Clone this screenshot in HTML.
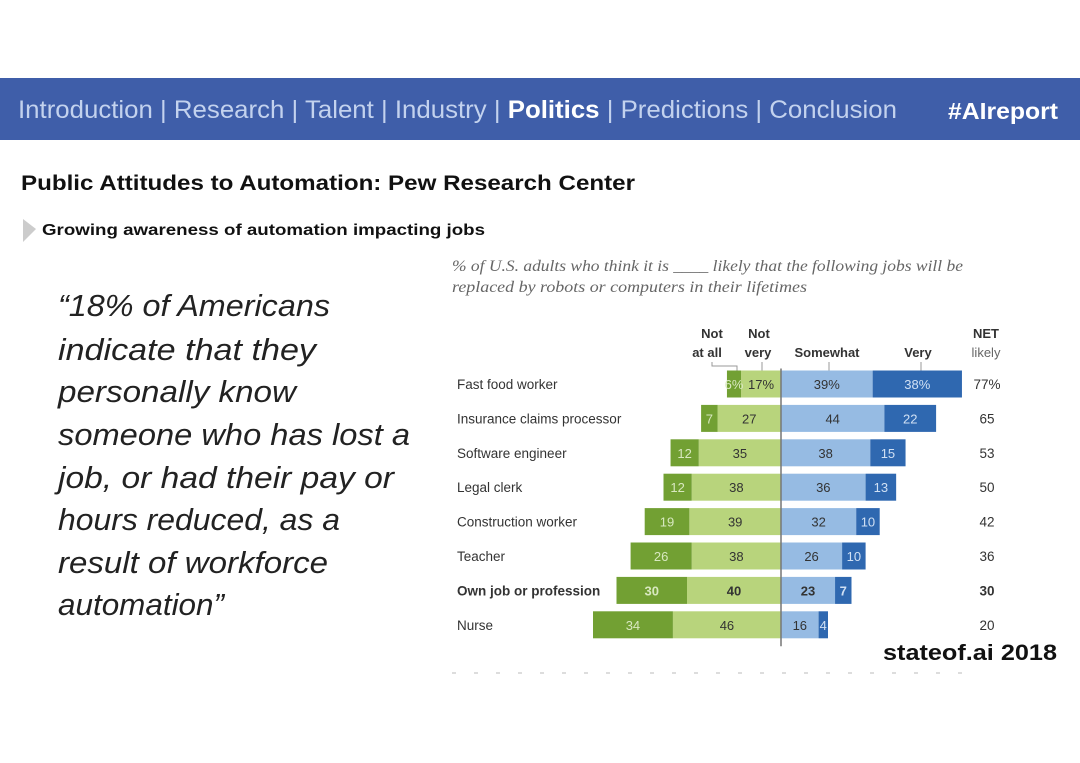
<!DOCTYPE html>
<html><head><meta charset="utf-8"><style>
body{margin:0;background:#fff}
svg{display:block}
</style></head><body>
<svg id="s" width="1080" height="763" viewBox="0 0 1080 763" xmlns="http://www.w3.org/2000/svg" font-family="Liberation Sans, sans-serif">
<rect x="0" y="78" width="1080" height="62" fill="#3f5ea9"/>
<text x="18" y="118" font-size="25" fill="#c3d2ee" textLength="879" lengthAdjust="spacingAndGlyphs">Introduction | Research | Talent | Industry | <tspan font-weight="bold" fill="#fff">Politics</tspan> | Predictions | Conclusion</text>
<text x="948" y="119" font-size="23" font-weight="bold" fill="#fff" textLength="110" lengthAdjust="spacingAndGlyphs">#AIreport</text>
<text x="21" y="190" font-size="21" font-weight="bold" fill="#111" textLength="614" lengthAdjust="spacingAndGlyphs">Public Attitudes to Automation: Pew Research Center</text>
<polygon points="23,219 36,229 23,242" fill="#ccc"/>
<text x="42" y="235" font-size="16" font-weight="bold" fill="#111" textLength="443" lengthAdjust="spacingAndGlyphs">Growing awareness of automation impacting jobs</text>
<g font-style="italic" font-size="31" fill="#222">
<text x="58" y="316" textLength="272" lengthAdjust="spacingAndGlyphs">“18% of Americans</text>
<text x="58" y="360" textLength="258" lengthAdjust="spacingAndGlyphs">indicate that they</text>
<text x="58" y="402" textLength="238" lengthAdjust="spacingAndGlyphs">personally know</text>
<text x="58" y="445" textLength="352" lengthAdjust="spacingAndGlyphs">someone who has lost a</text>
<text x="58" y="488" textLength="336" lengthAdjust="spacingAndGlyphs">job, or had their pay or</text>
<text x="58" y="530" textLength="282" lengthAdjust="spacingAndGlyphs">hours reduced, as a</text>
<text x="58" y="573" textLength="270" lengthAdjust="spacingAndGlyphs">result of workforce</text>
<text x="58" y="615" textLength="166" lengthAdjust="spacingAndGlyphs">automation”</text>
</g>
<g font-family="Liberation Serif, serif" font-style="italic" font-size="16" fill="#666">
<text x="452" y="271" textLength="511" lengthAdjust="spacingAndGlyphs">% of U.S. adults who think it is ____ likely that the following jobs will be</text>
<text x="452" y="292" textLength="355" lengthAdjust="spacingAndGlyphs">replaced by robots or computers in their lifetimes</text>
</g>
<g font-size="13" fill="#333" text-anchor="middle">
<text x="712" y="338" font-weight="bold">Not</text><text x="707" y="357" font-weight="bold">at all</text>
<text x="759" y="338" font-weight="bold">Not</text><text x="758" y="357" font-weight="bold">very</text>
<text x="827" y="357" font-weight="bold">Somewhat</text>
<text x="918" y="357" font-weight="bold">Very</text>
<text x="986" y="338" font-weight="bold">NET</text><text x="986" y="357" fill="#666">likely</text>
</g>
<g stroke="#999" stroke-width="1" fill="none">
<polyline points="712,362 712,366 737,366 737,372"/><line x1="762" y1="362" x2="762" y2="372"/><line x1="829" y1="362" x2="829" y2="372"/><line x1="921" y1="362" x2="921" y2="372"/>
</g>
<g id="chart"></g>
<text x="1057" y="660" font-size="22" font-weight="bold" fill="#111" text-anchor="end" textLength="174" lengthAdjust="spacingAndGlyphs">stateof.ai 2018</text>
<line x1="452" y1="673" x2="965" y2="673" stroke="#ddd" stroke-width="2" stroke-dasharray="4 18"/>
</svg>
<script>
const categories=["Fast food worker","Insurance claims processor","Software engineer","Legal clerk","Construction worker","Teacher","Own job or profession","Nurse"];
const notAtAll=[6,7,12,12,19,26,30,34];
const notVery=[17,27,35,38,39,38,40,46];
const somewhat=[39,44,38,36,32,26,23,16];
const very=[38,22,15,13,10,10,7,4];
const net=[77,65,53,50,42,36,30,20];
const NS="http://www.w3.org/2000/svg";
const g=document.getElementById('chart');
const cx=781,k=2.35,y0=384,step=34.4,bh=27;
const xs=v=>v*k;
const rowY=i=>y0+i*step;
function mk(t,a){const e=document.createElementNS(NS,t);for(const n in a)e.setAttribute(n,a[n]);g.appendChild(e);return e;}
function bar(x,w,y,fill,val,tc,bold,suffix){
  const r=mk('rect',{x:x,y:y-bh/2,width:w,height:bh,fill:fill});
  
  
  const t=mk('text',{x:x+w/2,y:y+5,'font-size':13,'text-anchor':'middle',fill:tc,'font-weight':bold?'bold':'normal'});
  t.textContent=val+suffix;
  
  
}
categories.forEach((c,i)=>{
  const y=rowY(i),b=i===6,s=i===0?'%':'';
  const l=mk('text',{x:457,y:y+5,'font-size':13.5,fill:'#333','font-weight':b?'bold':'normal'});
  l.textContent=c;
  
  
  const wv=xs(notVery[i]),wa=xs(notAtAll[i]);
  bar(cx-wv,wv,y,'#b8d47c',notVery[i],'#333',b,s);
  bar(cx-wv-wa,wa,y,'#72a033',notAtAll[i],'#d8e8c0',b,s);
  const ws=xs(somewhat[i]),wy=xs(very[i]);
  bar(cx,ws,y,'#96bbe3',somewhat[i],'#333',b,s);
  bar(cx+ws,wy,y,'#2f68b0',very[i],'#d0e0f4',b,s);
  const n=mk('text',{x:987,y:y+5,'font-size':13.5,'text-anchor':'middle',fill:'#333','font-weight':b?'bold':'normal'});
  n.textContent=net[i]+s;
  
  
});
const ax=mk('line',{x1:cx,y1:rowY(0)-bh/2-2,x2:cx,y2:rowY(categories.length-1)+bh/2+8,stroke:'#777','stroke-width':1.5});


</script>
</body></html>
